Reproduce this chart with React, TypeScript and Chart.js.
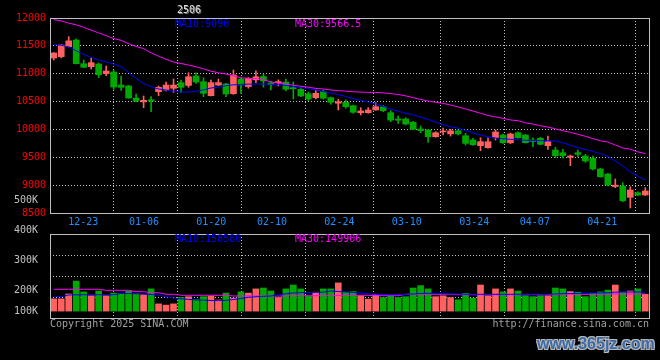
import React, { useEffect, useRef } from "react";
import { Chart, registerables, LinearScale } from "chart.js";

Chart.register(...registerables);

// Label axis that keeps its lowest label inside the panel, as the original does
class ClampedLabelScale extends LinearScale {
  static id = "clampedLabel";
  getPixelForValue(value: number) {
    const px = super.getPixelForValue(value);
    return Math.min(px, this.bottom - 7);
  }
}
Chart.register(ClampedLabelScale);

// ---------------- DATA ----------------
const dates = [
  "12-23","12-24","12-25","12-26","12-27","12-30","12-31","01-02","01-03","01-06",
  "01-07","01-08","01-09","01-10","01-13","01-14","01-15","01-16","01-17","01-20",
  "01-21","01-22","01-23","01-24","01-27","02-05","02-06","02-07","02-10","02-11",
  "02-12","02-13","02-14","02-17","02-18","02-19","02-20","02-21","02-24","02-25",
  "02-26","02-27","02-28","03-03","03-04","03-05","03-06","03-07","03-10","03-11",
  "03-12","03-13","03-14","03-17","03-18","03-19","03-20","03-21","03-24","03-25",
  "03-26","03-27","03-28","03-31","04-01","04-02","04-03","04-07","04-08","04-09",
  "04-10","04-11","04-14","04-15","04-16","04-17","04-18","04-21","04-22","04-23",
];
const tickDates = ["12-23","01-06","01-20","02-10","02-24","03-10","03-24","04-07","04-21"];

const open = [
  11282,11305,11485,11605,11180,11126,11174,11000,11031,10797,
  10779,10564,10495,10533,10677,10707,10738,10840,10790,10959,
  10857,10605,10797,10815,10641,10905,10770,10890,10950,10835,
  10840,10850,10750,10720,10640,10570,10677,10570,10470,10487,
  10426,10300,10300,10349,10408,10300,10187,10187,10128,10008,
  9990,9870,9955,9920,9977,9887,9810,9708,9672,9851,
  9900,9760,9941,9900,9810,9840,9708,9630,9582,9500,
  9582,9523,9482,9290,9200,8975,8984,8782,8864,8823,
];
const high = [
  11380,11520,11665,11625,11246,11282,11192,11138,11067,10959,
  10790,10636,10600,10588,10779,10851,10905,10887,11018,11018,
  10928,10887,10905,10827,11067,10915,10930,11050,10990,10870,
  10890,10905,10851,10756,10672,10707,10707,10580,10541,10528,
  10438,10390,10390,10480,10426,10336,10241,10210,10145,10061,
  10000,9960,10026,10000,9990,9930,9840,9851,9850,9990,
  9915,9935,9955,9910,9851,9860,9882,9680,9643,9541,
  9630,9553,9523,9300,9210,9110,9044,8970,8880,8955,
];
const low = [
  11246,11285,11480,11175,11110,11085,10928,10965,10720,10700,
  10558,10500,10390,10318,10605,10690,10666,10666,10756,10828,
  10588,10600,10785,10588,10630,10648,10740,10840,10760,10710,
  10780,10690,10546,10588,10516,10546,10546,10451,10349,10380,
  10290,10259,10290,10345,10320,10139,10110,10080,9990,9941,
  9765,9860,9900,9880,9900,9720,9715,9618,9665,9810,
  9750,9745,9845,9755,9690,9725,9643,9495,9482,9350,
  9510,9410,9272,9140,8985,8955,8703,8590,8810,8815,
];
const close = [
  11372,11515,11590,11180,11115,11198,10982,11049,10761,10756,
  10564,10510,10523,10510,10756,10797,10797,10756,10946,10851,
  10648,10840,10840,10636,10977,10797,10917,10945,10870,10800,
  10855,10720,10732,10600,10546,10648,10560,10487,10498,10408,
  10307,10331,10349,10408,10336,10169,10165,10097,10002,9980,
  9870,9941,9972,9975,9918,9750,9726,9780,9780,9954,
  9762,9918,9851,9762,9785,9732,9780,9528,9528,9523,
  9553,9433,9290,9151,9002,9000,8720,8913,8823,8895,
];
const ma10 = [
  11524,11510,11485,11411,11348,11291,11246,11210,11174,11129,
  11022,10914,10824,10767,10726,10708,10690,10672,10672,10684,
  10711,10744,10758,10785,10801,10808,10812,10815,10813,10810,
  10803,10788,10772,10749,10733,10708,10681,10648,10627,10591,
  10555,10519,10492,10456,10411,10367,10327,10291,10259,10223,
  10178,10133,10085,10047,10022,9981,9936,9900,9867,9846,
  9832,9823,9814,9805,9801,9797,9797,9792,9760,9715,
  9675,9640,9604,9568,9514,9433,9343,9236,9164,9090,
];
const ma30 = [
  11971,11946,11907,11878,11833,11781,11734,11682,11632,11598,
  11540,11488,11451,11375,11314,11259,11210,11183,11156,11124,
  11088,11045,11016,10995,10962,10927,10916,10914,10894,10851,
  10833,10815,10792,10774,10758,10736,10726,10708,10697,10686,
  10675,10670,10666,10665,10656,10643,10627,10603,10571,10537,
  10510,10487,10467,10438,10404,10367,10329,10291,10250,10225,
  10200,10169,10158,10119,10097,10065,10042,10009,9977,9948,
  9912,9877,9837,9796,9774,9720,9668,9645,9596,9566.5,
];
const volume = [
  173000,173000,189000,232000,196000,183000,199000,183000,192000,191000,
  199000,190000,187000,206000,156000,152000,156000,177000,180000,171000,
  180000,182000,169000,192000,175000,196000,192000,206000,209000,199000,
  177000,206000,219000,206000,182000,195000,206000,206000,226000,195000,
  197000,183000,172000,188000,177000,183000,177000,180000,209000,217000,
  206000,180000,183000,177000,170000,191000,175000,219000,183000,206000,
  196000,206000,199000,183000,180000,183000,183000,209000,206000,197000,
  195000,180000,191000,196000,202000,219000,195000,199000,206000,188000,
];
const volMa10 = [
  181700,179700,185700,186300,186700,186700,186700,186700,186700,190700,
  190700,190000,189000,187300,185000,180300,175700,173000,171000,169300,
  168300,167300,167000,168000,170700,174000,178000,179700,181300,182300,
  185700,189700,192300,193700,194000,194300,195000,199000,197300,195700,
  194300,193000,189700,187700,187300,187000,187000,188000,189000,190700,
  191300,190700,190000,189300,189000,188300,188000,188000,188000,188000,
  188000,188000,188000,188000,188000,188000,188000,189000,190000,190700,
  191000,191700,192300,192700,193000,195300,195700,195700,195700,195700,
];
const volMa30 = [
  204700,204700,204700,204700,204700,204700,204700,201300,201300,201300,
  201300,196700,196700,193300,193300,188000,188000,184700,184700,184700,
  184700,184700,184700,184700,182300,182300,182300,182300,182300,182300,
  182300,182300,183300,183300,183300,183300,183300,183300,184700,184700,
  184700,184700,184700,183300,183300,183300,183300,188000,188000,188000,
  188000,188000,188000,188000,186700,186700,186700,186700,186700,186700,
  186700,186700,186700,186700,186700,186700,186700,186700,188000,188000,
  188000,188000,188000,188000,188000,189000,189000,189000,189000,189000,
];
const priceRange = [8500, 12000];
const priceStep = 500;
const volTicks = [100000, 200000, 300000, 400000, 500000];
const volRange = [109000, 389000];
const volFloor = 132000;
const legendPrice = ["MA10:9090", "MA30:9566.5"];
const legendVol = ["MA10:158580", "MA30:149906"];
const contract = "2506";

// ---------------- STYLE ----------------
const UP = "#ff6060";
const DOWN = "#00a800";
const GRID = "#c0c0c0";
const MONO = "DejaVu Sans Mono";
const BLUE = "#0000ff";
const MAGENTA = "#ff00ff";
const candleColors = close.map((c, i) => (c >= open[i] ? UP : DOWN));
const tickIdx = tickDates.map((d) => dates.indexOf(d));
const lastTick = tickIdx[tickIdx.length - 1];

const framePlugin = {
  id: "frame",
  afterDraw(chart: any) {
    const { ctx, chartArea: a } = chart;
    ctx.save();
    ctx.strokeStyle = GRID;
    ctx.lineWidth = 1;
    ctx.setLineDash([]);
    ctx.strokeRect(a.left + 0.5, a.top + 0.5, a.right - a.left, a.bottom - a.top);
    ctx.restore();
  },
};

const dateGridAxis = (showLabels: boolean) => ({
  type: "linear",
  position: "bottom",
  min: 0,
  max: dates.length - 1,
  afterBuildTicks: (s: any) => {
    s.ticks = tickIdx.map((v) => ({ value: v }));
  },
  afterFit: (s: any) => {
    s.height = showLabels ? 20 : 0;
    s.paddingLeft = 0;
    s.paddingRight = 0;
  },
  ticks: {
    display: showLabels,
    autoSkip: false,
    maxRotation: 0,
    minRotation: 0,
    color: "#1e90ff",
    font: { family: MONO, size: 10 },
    padding: 3,
    callback: (v: number) => dates[v],
  },
  grid: {
    drawTicks: false,
    color: (c: any) =>
      c.tick && (c.tick.value === 0 || c.tick.value === lastTick) ? "rgba(0,0,0,0)" : GRID,
  },
  border: { display: false, dash: [1, 2] },
});

function priceConfig(): any {
  return {
    type: "bar",
    data: {
      labels: dates,
      datasets: [
        { type: "line", label: "MA10", data: ma10, borderColor: BLUE, borderWidth: 1, pointRadius: 0, xAxisID: "x", yAxisID: "y" },
        { type: "line", label: "MA30", data: ma30, borderColor: MAGENTA, borderWidth: 1, pointRadius: 0, xAxisID: "x", yAxisID: "y" },
        { type: "bar", label: "body", data: open.map((o, i) => [o, close[i]]), backgroundColor: candleColors, barThickness: 6, grouped: false, minBarLength: 1, xAxisID: "x", yAxisID: "y" },
        { type: "bar", label: "wick", data: low.map((l, i) => [l, high[i]]), backgroundColor: candleColors, barThickness: 1, grouped: false, xAxisID: "x", yAxisID: "y" },
      ],
    },
    options: {
      responsive: false,
      animation: false,
      layout: { padding: { top: 18, right: 11, bottom: 127, left: 0 } },
      plugins: { legend: { display: false }, tooltip: { enabled: false } },
      scales: {
        x: { type: "category", display: false, offset: true },
        xg: dateGridAxis(true),
        y: {
          type: "linear",
          position: "left",
          min: priceRange[0],
          max: priceRange[1],
          afterFit: (s: any) => {
            s.width = 50;
            s.paddingTop = 0;
            s.paddingBottom = 0;
          },
          ticks: { stepSize: priceStep, color: "#ff0000", font: { family: MONO, size: 10 }, padding: 4, callback: (v: number) => String(v) },
          grid: { drawTicks: false, color: GRID },
          border: { display: false, dash: [1, 2] },
        },
      },
    },
    plugins: [framePlugin],
  };
}

function volumeConfig(): any {
  return {
    type: "bar",
    data: {
      labels: dates,
      datasets: [
        { type: "line", label: "MA10", data: volMa10, borderColor: BLUE, borderWidth: 1, pointRadius: 0, xAxisID: "x", yAxisID: "y" },
        { type: "line", label: "MA30", data: volMa30, borderColor: MAGENTA, borderWidth: 1, pointRadius: 0, xAxisID: "x", yAxisID: "y" },
        { type: "bar", label: "VOL", data: volume, backgroundColor: candleColors, barThickness: 6, base: volFloor, xAxisID: "x", yAxisID: "y" },
      ],
    },
    options: {
      responsive: false,
      animation: false,
      layout: { padding: { top: 234, right: 11, bottom: 42, left: 0 } },
      plugins: { legend: { display: false }, tooltip: { enabled: false } },
      scales: {
        x: { type: "category", display: false, offset: true },
        xg: dateGridAxis(false),
        y: {
          type: "linear",
          position: "right",
          min: volRange[0],
          max: volRange[1],
          afterBuildTicks: (s: any) => {
            s.ticks = [0, 1, 2, 3, 4].map((k) => ({ value: volRange[0] + (k * (volRange[1] - volRange[0])) / 4 }));
          },
          afterFit: (s: any) => {
            s.width = 0;
          },
          ticks: { display: false },
          grid: { drawTicks: false, color: GRID },
          border: { display: false, dash: [1, 2] },
        },
        yl: {
          type: "clampedLabel",
          position: "left",
          min: volRange[0],
          max: volRange[1],
          afterBuildTicks: (s: any) => {
            s.ticks = volTicks.map((v) => ({ value: v }));
          },
          afterFit: (s: any) => {
            s.width = 50;
            s.paddingTop = 0;
            s.paddingBottom = 0;
          },
          ticks: { autoSkip: false, color: "#c0c0c0", font: { family: MONO, size: 10 }, padding: 4, callback: (v: number) => `${v / 1000}K` },
          grid: { display: false },
          border: { display: false },
        },
      },
    },
    plugins: [framePlugin],
  };
}

const txt = (extra: React.CSSProperties): React.CSSProperties => ({
  position: "absolute",
  fontFamily: MONO,
  fontSize: 10,
  lineHeight: "10px",
  whiteSpace: "pre",
  ...extra,
});

export default function App() {
  const priceRef = useRef<HTMLCanvasElement>(null);
  const volRef = useRef<HTMLCanvasElement>(null);

  useEffect(() => {
    const pc = new Chart(priceRef.current as HTMLCanvasElement, priceConfig());
    const vc = new Chart(volRef.current as HTMLCanvasElement, volumeConfig());
    return () => {
      pc.destroy();
      vc.destroy();
    };
  }, []);

  return (
    <div style={{ position: "absolute", left: 0, top: 0, width: 660, height: 360, background: "#000", overflow: "hidden" }}>
      <canvas ref={priceRef} width={660} height={360} style={{ position: "absolute", left: 0, top: 0, width: 660, height: 360 }} />
      <canvas ref={volRef} width={660} height={360} style={{ position: "absolute", left: 0, top: 0, width: 660, height: 360 }} />
      <div style={txt({ left: 177, top: 5, color: "#e0e0e0", textShadow: "1px 1px 0 #777" })}>{contract}</div>
      <div style={txt({ left: 175, top: 18.5, color: BLUE })}>{legendPrice[0]}</div>
      <div style={txt({ left: 295, top: 18.5, color: MAGENTA })}>{legendPrice[1]}</div>
      <div style={txt({ left: 175, top: 234, color: BLUE })}>{legendVol[0]}</div>
      <div style={txt({ left: 295, top: 234, color: MAGENTA })}>{legendVol[1]}</div>
      <div style={txt({ left: 50, top: 318.5, color: "#a0a0a0" })}>Copyright 2025 SINA.COM</div>
      <div style={txt({ right: 11, top: 318.5, color: "#a0a0a0" })}>http://finance.sina.com.cn</div>
      <div
        style={{
          position: "absolute",
          left: 537,
          top: 334,
          fontFamily: "Liberation Sans",
          fontWeight: "bold",
          fontSize: 16,
          lineHeight: "20px",
          color: "#3d6aa8",
          textShadow: "1px 1px 0 #b8b8b8, -1px -1px 0 #b8b8b8, 1px -1px 0 #b8b8b8, -1px 1px 0 #b8b8b8",
          whiteSpace: "pre",
        }}
      >
        www.365jz.com
      </div>
    </div>
  );
}
